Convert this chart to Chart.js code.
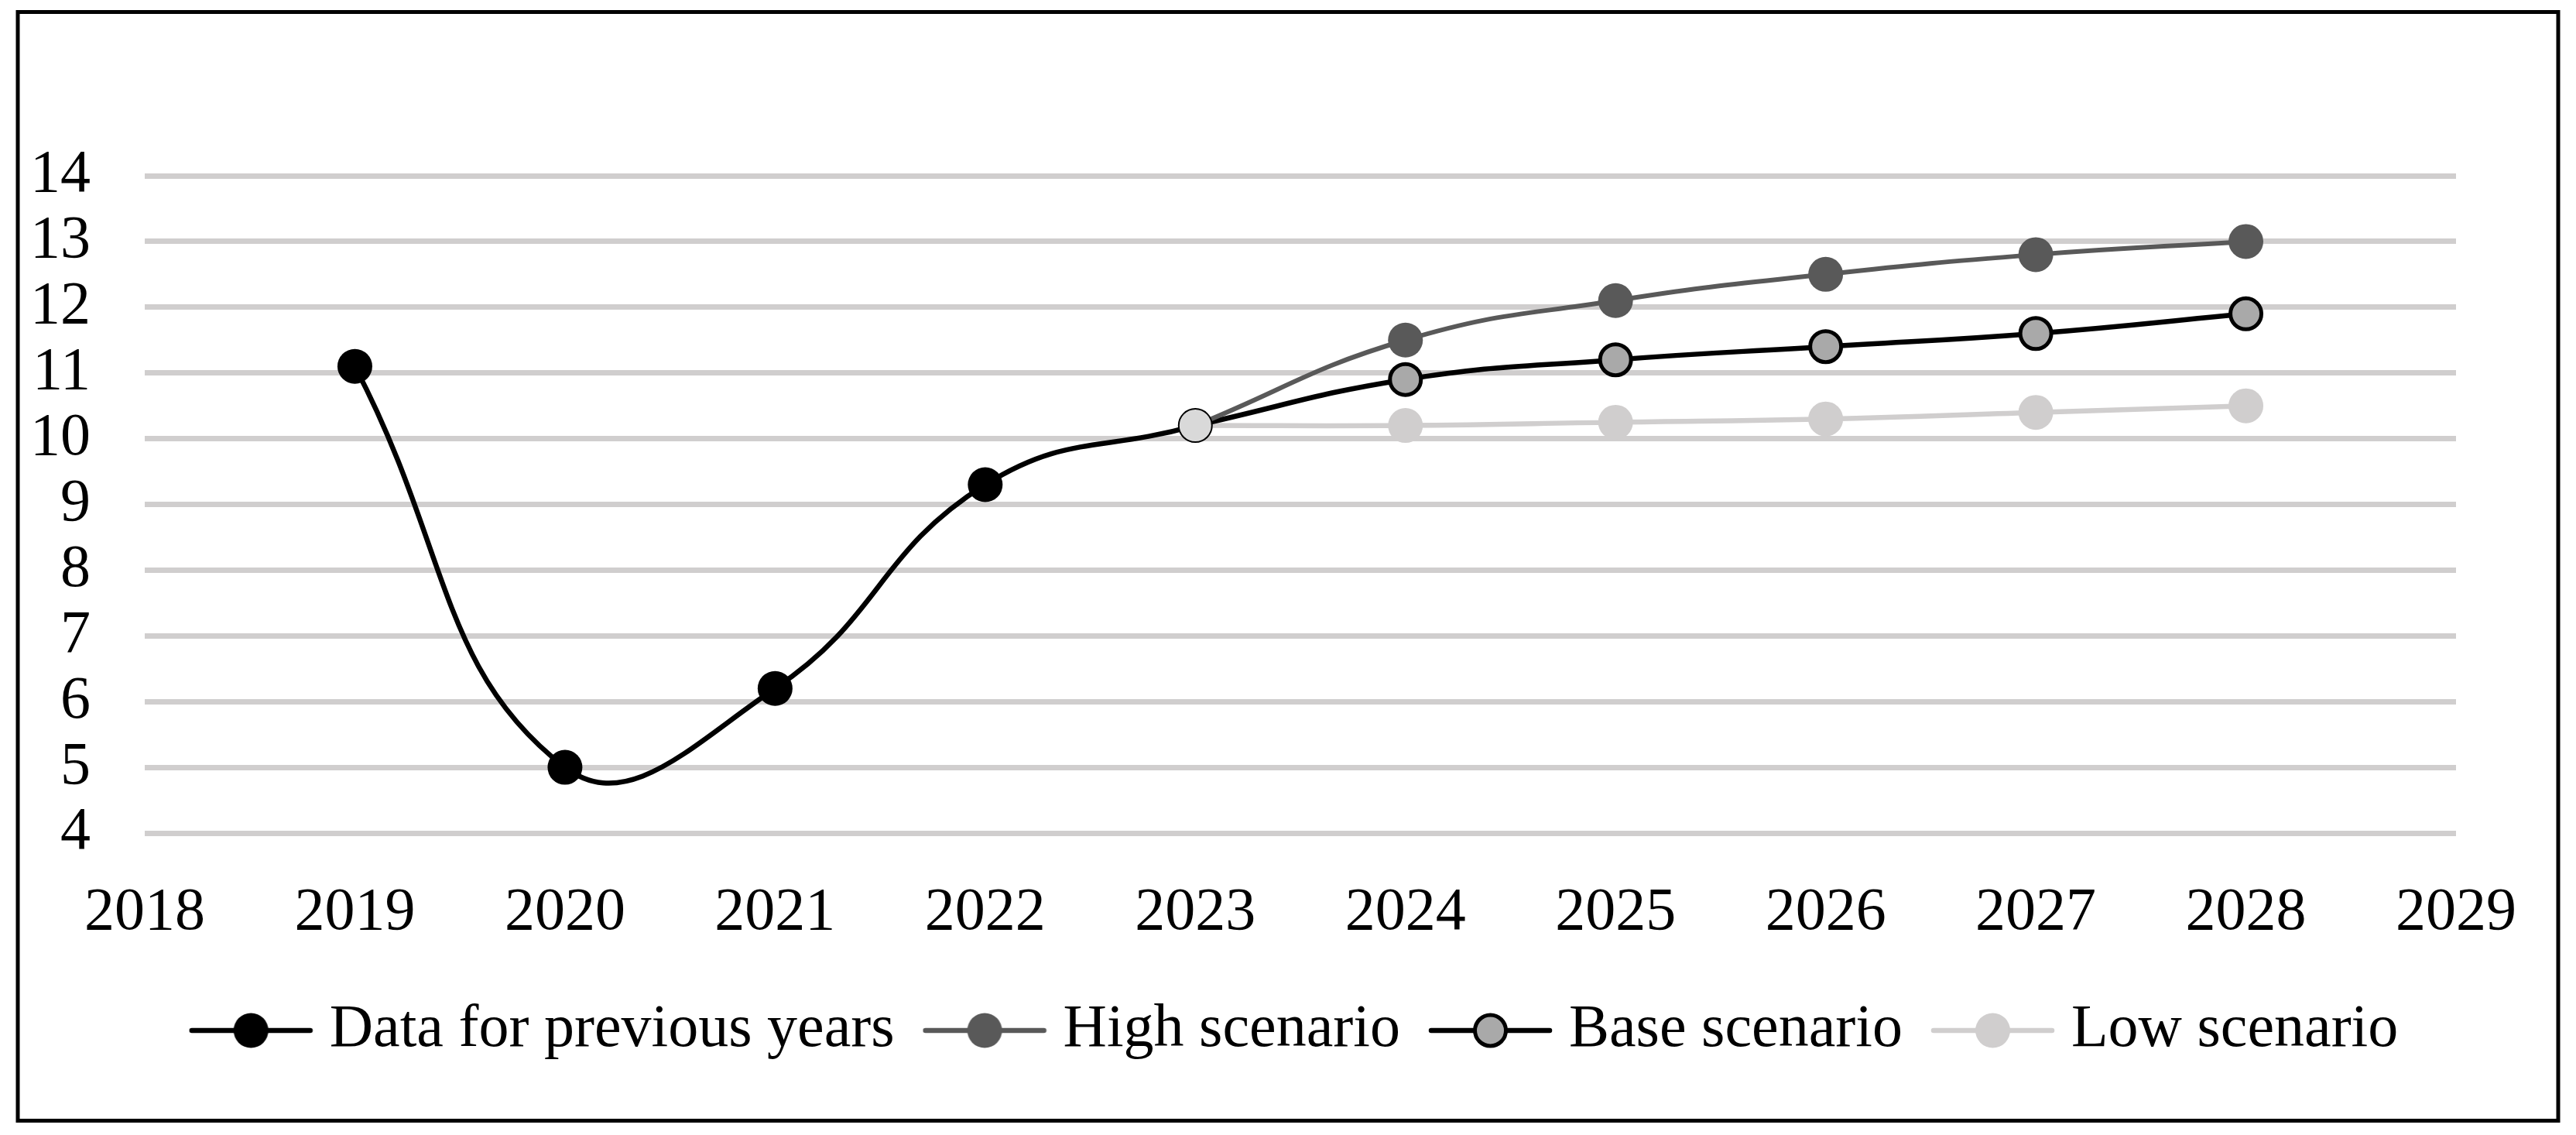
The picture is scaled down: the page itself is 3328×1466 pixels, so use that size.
<!DOCTYPE html>
<html>
<head>
<meta charset="utf-8">
<script src="https://cdn.jsdelivr.net/npm/chart.js@4.4.1/dist/chart.umd.min.js"></script>
<style>
  html, body { margin: 0; padding: 0; background: #fff; }
  canvas { display: block; }
</style>
</head>
<body>
<canvas id="chart" width="3328" height="1466"></canvas>
<script>
const yearLabels = ['2018', '2019', '2020', '2021', '2022', '2023', '2024', '2025', '2026', '2027', '2028', '2029'];

const previousYears = [null, 11.1, 5.0, 6.2, 9.3, 10.2, null, null, null, null, null, null];
const highScenario  = [null, null, null, null, null, 10.2, 11.5, 12.1, 12.5, 12.8, 13.0, null];
const baseScenario  = [null, null, null, null, null, 10.2, 10.9, 11.2, 11.4, 11.6, 11.9, null];
const lowScenario   = [null, null, null, null, null, 10.2, 10.2, 10.25, 10.3, 10.4, 10.5, null];

const seriesNames = ['Data for previous years', 'High scenario', 'Base scenario', 'Low scenario'];

const FONT = "'Liberation Serif', 'Times New Roman', serif";
const GRID = '#d0cece';

// small picture for the legend: a line with the marker on it
function legendMarker(lineColor, fill, border, borderWidth) {
    const c = document.createElement('canvas');
    c.width = 161;
    c.height = 54;
    const g = c.getContext('2d');
    g.strokeStyle = lineColor;
    g.lineWidth = 6.5;
    g.lineCap = 'round';
    g.beginPath();
    g.moveTo(4, 27);
    g.lineTo(157, 27);
    g.stroke();
    g.beginPath();
    g.arc(80.5, 27, borderWidth ? 20 : 22.5, 0, Math.PI * 2);
    g.fillStyle = fill;
    g.fill();
    if (borderWidth) {
        g.lineWidth = borderWidth;
        g.strokeStyle = border;
        g.stroke();
    }
    return c;
}

const legendIcons = [
    legendMarker('#000', '#000', null, 0),
    legendMarker('#595959', '#595959', null, 0),
    legendMarker('#000', '#a9a9a9', '#000', 5),
    legendMarker(GRID, GRID, null, 0)
];

const is2023 = (c) => yearLabels[c.dataIndex] === '2023';

const frame = {
    id: 'frame',
    beforeDraw(chart) {
        const ctx = chart.ctx;
        ctx.save();
        ctx.fillStyle = '#fff';
        ctx.fillRect(0, 0, chart.width, chart.height);
        ctx.restore();
    },
    afterDraw(chart) {
        const ctx = chart.ctx;
        ctx.save();
        ctx.strokeStyle = '#000';
        ctx.lineWidth = 5;
        ctx.strokeRect(23, 15.5, 3282, 1432);
        ctx.restore();
    }
};

new Chart(document.getElementById('chart'), {
    type: 'line',
    data: {
        labels: yearLabels,
        datasets: [
            {
                label: seriesNames[0],
                data: previousYears,
                borderColor: '#000',
                borderWidth: 6.5,
                pointRadius: (c) => is2023(c) ? 21.5 : 22.5,
                pointBackgroundColor: (c) => is2023(c) ? '#d9d9d9' : '#000',
                pointBorderColor: '#000',
                pointBorderWidth: (c) => is2023(c) ? 2 : 0,
                tension: 0.45
            },
            {
                label: seriesNames[1],
                data: highScenario,
                borderColor: '#595959',
                borderWidth: 6,
                pointRadius: (c) => is2023(c) ? 0 : 22.5,
                pointBackgroundColor: '#595959',
                pointBorderWidth: 0,
                tension: 0.45
            },
            {
                label: seriesNames[2],
                data: baseScenario,
                borderColor: '#000',
                borderWidth: 6.5,
                pointRadius: (c) => is2023(c) ? 0 : 20,
                pointBackgroundColor: '#a9a9a9',
                pointBorderColor: '#000',
                pointBorderWidth: 5,
                tension: 0.45
            },
            {
                label: seriesNames[3],
                data: lowScenario,
                borderColor: GRID,
                borderWidth: 6.5,
                pointRadius: (c) => is2023(c) ? 0 : 22.5,
                pointBackgroundColor: GRID,
                pointBorderWidth: 0,
                tension: 0.45
            }
        ]
    },
    options: {
        responsive: false,
        devicePixelRatio: 1,
        animation: false,
        layout: {
            padding: { top: 227, left: 0, right: 155, bottom: 86 }
        },
        elements: {
            point: { pointStyle: 'circle' }
        },
        scales: {
            x: {
                type: 'category',
                offset: false,
                grid: { display: false },
                border: { display: false },
                ticks: {
                    color: '#000',
                    font: { family: FONT, size: 78 },
                    padding: 49,
                    maxRotation: 0,
                    autoSkip: false
                },
                afterFit(scale) {
                    scale.height = 162;
                }
            },
            y: {
                min: 4,
                max: 14,
                grid: { color: GRID, lineWidth: 7, drawTicks: false },
                border: { display: false },
                ticks: {
                    stepSize: 1,
                    autoSkip: false,
                    color: '#000',
                    font: { family: FONT, size: 78 },
                    padding: 70
                },
                afterFit(scale) {
                    scale.width = 187;
                }
            }
        },
        plugins: {
            legend: {
                position: 'bottom',
                fullSize: false,
                labels: {
                    usePointStyle: true,
                    pointStyleWidth: 125,
                    padding: 54,
                    color: '#000',
                    font: { family: FONT, size: 78 },
                    generateLabels(chart) {
                        const items = Chart.defaults.plugins.legend.labels.generateLabels(chart);
                        items.forEach((item, i) => { item.pointStyle = legendIcons[i]; });
                        return items;
                    }
                }
            },
            tooltip: { enabled: false }
        }
    },
    plugins: [frame]
});
</script>
</body>
</html>
